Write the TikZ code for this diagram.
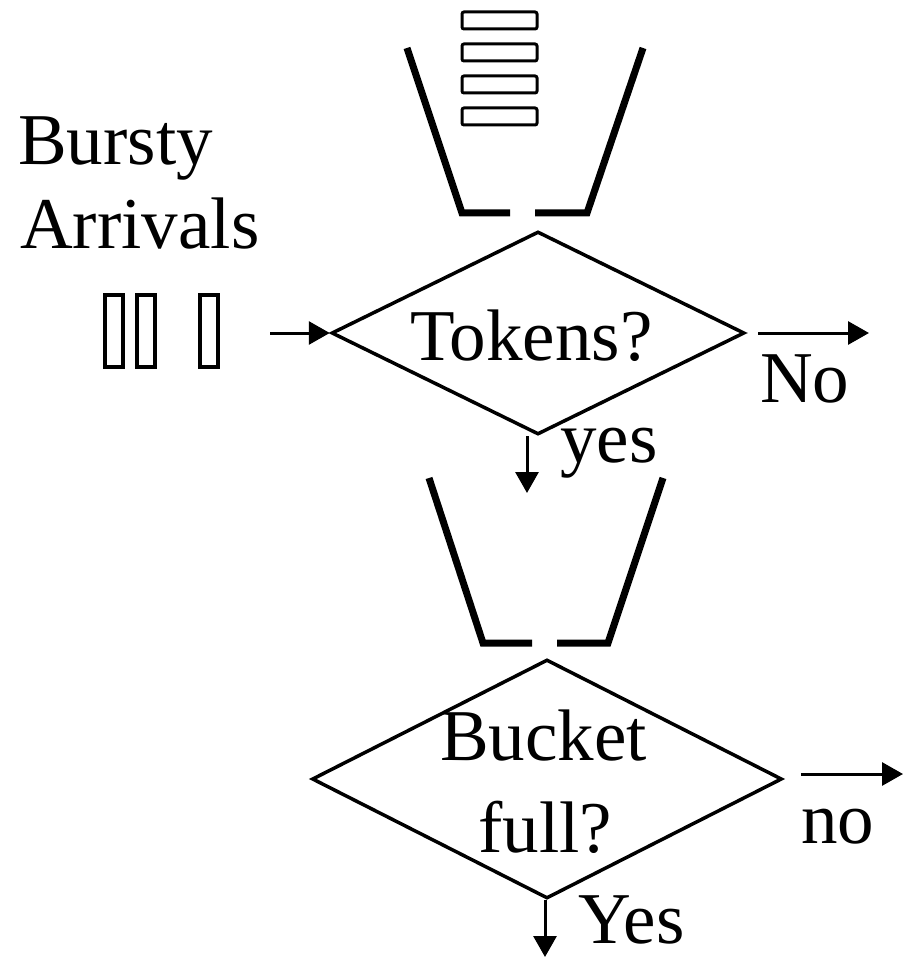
\documentclass[tikz,border=0pt]{standalone}
\usepackage{fontspec}
\setmainfont{Liberation Serif}
\usetikzlibrary{arrows.meta,shapes.geometric,calc}

\begin{document}
\begin{tikzpicture}[x=1pt,y=-1pt,
  lbl/.style={anchor=base west,inner sep=0pt,font=\fontsize{73}{84}\selectfont},
  decision/.style={diamond,draw,line width=3.5pt,inner sep=0pt},
  wall/.style={line width=7pt,line join=miter},
  token/.style={draw,line width=3pt,rounded corners=2pt},
  packet/.style={draw,line width=3.2pt},
  flow/.style={line width=3pt,-{Triangle[length=21pt,width=23pt]}}]
\useasboundingbox (0,0) rectangle (903,957);

% token bucket with its tokens
\draw[wall] (407,48) -- (462,213) -- (510,213);
\draw[wall] (535,213) -- (587,213) -- (643,48);
\foreach \y in {12,44,76,108}
  \draw[token] (462,\y) rectangle (537,\y+17);

% data bucket
\draw[wall] (429,478) -- (483,643) -- (532,643);
\draw[wall] (557,643) -- (608,643) -- (663,478);

% bursty packets
\draw[packet] (105,295) rectangle (123,367);
\draw[packet] (137,295) rectangle (155,367);
\draw[packet] (200,295) rectangle (218,367);

% decisions
\node[decision,minimum width=413pt,minimum height=203pt] (tok) at (538,333) {};
\node[decision,minimum width=470pt,minimum height=239pt] (full) at (547,779) {};

% labels
\node[lbl] (bursty) at (18,165) {Bursty};
\node[lbl] (arrivals) at (20,249) {Arrivals};
\node[lbl] (toktext) at (410,360) {Tokens?};
\node[lbl] (nolbl) at (760,402) {No};
\node[lbl] (yeslbl) at (560,462) {yes};
\node[lbl] (bucket) at (440,760) {Bucket};
\node[lbl] (fulltext) at (478,852) {full?};
\node[lbl] (nolbl2) at (801,843) {no};
\node[lbl] (yeslbl2) at (578,943) {Yes};

% connectors
\coordinate (inflow) at (270,333);
\coordinate (dropA) at (869,333);
\coordinate (passA) at (527,493);
\coordinate (dropB) at (903,774);
\coordinate (passB) at (545,957);

\draw[flow] (inflow) -- (tok.west);
\draw[flow] ($(tok.east)+(12,0)$) -- (dropA);
\draw[flow] ($(tok.south)+(-11,0)$) -- (passA);
\draw[flow] ($(full.east)+(17,-5)$) -- (dropB);
\draw[flow] ($(full.south)+(-2,0)$) -- (passB);
\end{tikzpicture}
\end{document}
